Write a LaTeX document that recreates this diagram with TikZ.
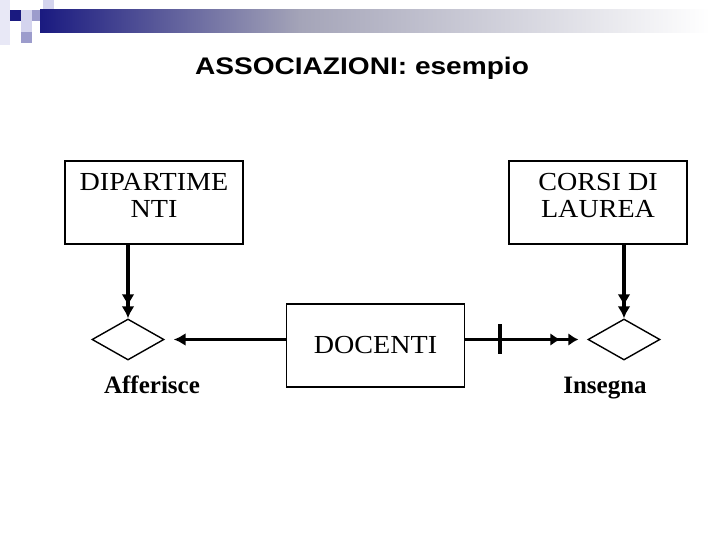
\documentclass[tikz,border=0pt]{standalone}
\usepackage{fontspec}
\setmainfont{Liberation Serif}
\newfontfamily\boxfont[FakeStretch=1.08]{Liberation Serif}
\newfontfamily\titlefont[FakeStretch=1.17]{Liberation Sans}
\usetikzlibrary{arrows.meta,positioning,shapes.geometric}
\definecolor{SlideNavy}{HTML}{1A1A80}
\definecolor{SlideLilac}{HTML}{D4D4EE}
\definecolor{SlideMauve}{HTML}{9C9CCC}
\definecolor{SlideGrey}{HTML}{A4A4B8}
\definecolor{SlideMist}{HTML}{E8E8F6}

\begin{document}
\begin{tikzpicture}[x=1pt,y=-1pt,
  entity/.style={draw,line width=1.6pt,minimum width=178pt,minimum height=83pt,align=center,inner sep=0pt,font=\boxfont\fontsize{26}{27}\selectfont},
  toptext/.style={text depth=14pt},
  rel/.style={draw,diamond,line width=1.4pt,minimum width=72pt,minimum height=41pt,inner sep=0pt},
  relname/.style={font=\bfseries\fontsize{25}{27}\selectfont,inner sep=0pt,anchor=base},
  arr/.style={-{Latex[length=12pt,width=13pt]},line width=3pt},
  darr/.style={-{Latex[length=12pt,width=13pt]Latex[length=12pt,width=13pt]},line width=3.2pt},
  sarr/.style={-{Latex[length=10pt,width=13pt,sep=8pt]Latex[length=10pt,width=13pt]},line width=3pt},
]
\useasboundingbox (0,0) rectangle (720,540);
% slide header
\fill[SlideMist] (0,0) rectangle (10,45);
\fill[SlideLilac] (43,0) rectangle (54,10);
\fill[SlideNavy] (10,10) rectangle (21,21);
\fill[SlideLilac] (21,10) rectangle (32,21);
\fill[SlideMauve] (32,10) rectangle (43,21);
\fill[SlideLilac] (21,21) rectangle (32,32);
\fill[SlideMauve] (21,32) rectangle (32,43);
\shade[left color=SlideNavy,right color=SlideGrey] (40,10) rectangle (300,33);
\shade[left color=SlideGrey,right color=white] (299,10) rectangle (710,33);
\node[font=\titlefont\bfseries\fontsize{24}{26}\selectfont] (title) at (362,68) {ASSOCIAZIONI: esempio};

% entities
\node[entity,toptext] (dip) at (154,202.5) {DIPARTIME\\NTI};
\node[entity,toptext] (corsi) at (598,202.5) {CORSI DI\\LAUREA};
\node[entity] (doc) at (375.5,345.5) {DOCENTI};

% relationships
\node[rel] (aff) at (128,339.5) {};
\node[rel] (ins) at (624,339.5) {};
\node[relname] (afflab) at (152,393) {Afferisce};
\node[relname] (inslab) at (605,393) {Insegna};

\draw[darr] (dip.south -| aff) -- (aff.north);
\draw[darr] (corsi.south -| ins) -- (ins.north);
\draw[arr] (doc.west |- aff) -- ([xshift=9pt]aff.east);
\draw[sarr] (doc.east |- ins) -- ([xshift=-9pt]ins.west);
\draw[line width=4pt] ([xshift=35pt,yshift=-14pt]doc.east |- ins) coordinate (tk1) -- ([xshift=35pt,yshift=16pt]doc.east |- ins) coordinate (tk2);
\end{tikzpicture}
\end{document}
